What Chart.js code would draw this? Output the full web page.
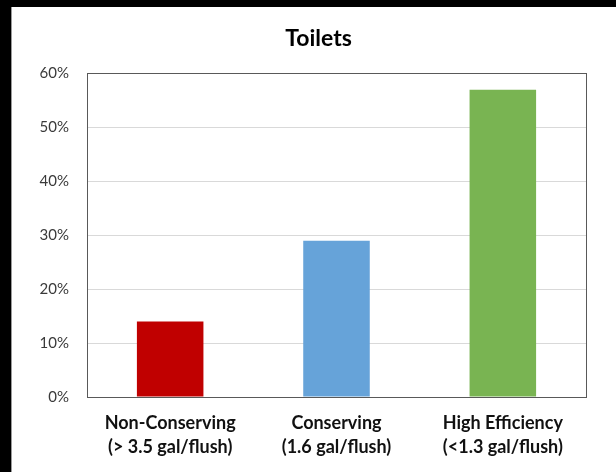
<!DOCTYPE html>
<html>
<head>
<meta charset="utf-8">
<script src="https://cdn.jsdelivr.net/npm/chart.js@4"></script>
<style>
  html, body { margin: 0; padding: 0; background: #000; }
  #wrap { position: absolute; left: 11px; top: 7px; width: 605px; height: 465px; background: #fff; border-left: 1px solid #9a9a9a; box-sizing: border-box; }
  canvas { display: block; }
</style>
</head>
<body>
<div id="wrap"><canvas id="myChart" width="604" height="465"></canvas></div>
<script>
// toilet types and share of each (percent)
var categories = [
  ['Non-Conserving', '(> 3.5 gal/flush)'],
  ['Conserving', '(1.6 gal/flush)'],
  ['High Efficiency', '(<1.3 gal/flush)']
];
var shares = [14, 29, 57];
var barColors = ['#C00000', '#66A3D9', '#79B452'];
var yMax = 60;
var yStep = 10;

var frameColor = '#595959';

var ctx = document.getElementById('myChart');

var chart = new Chart(ctx, {
  type: 'bar',
  data: {
    labels: categories,
    datasets: [{
      data: shares,
      backgroundColor: barColors,
      borderWidth: 0,
      barPercentage: 0.4,
      categoryPercentage: 1
    }]
  },
  options: {
    responsive: false,
    animation: false,
    layout: { padding: { left: 19, right: 10, top: 0, bottom: 0 } },
    plugins: {
      legend: { display: false },
      tooltip: { enabled: false },
      title: {
        display: true,
        text: 'Toilets',
        color: '#000',
        font: { family: 'Lato', size: 23, weight: 'bold', lineHeight: 1.2 },
        padding: { top: 18, bottom: 21 }
      }
    },
    scales: {
      x: {
        grid: { display: false },
        border: { display: true, color: frameColor, width: 1 },
        ticks: {
          color: '#111',
          padding: 6,
          maxRotation: 0,
          font: { family: 'Lato', size: 18, weight: 'bold', lineHeight: 1.35 }
        },
        afterFit: function(scale) { scale.height = 75; }
      },
      y: {
        min: 0,
        max: yMax,
        border: { display: true, color: frameColor, width: 1 },
        grid: {
          drawTicks: false,
          // top gridline doubles as the frame's upper edge
          color: function(c) { return c.tick && c.tick.value === yMax ? frameColor : '#d9d9d9'; }
        },
        ticks: {
          stepSize: yStep,
          padding: 18,
          color: '#3a3a3a',
          font: { family: 'Lato', size: 15 },
          callback: function(v) { return v + '%'; }
        },
        afterFit: function(scale) { scale.width = 56; }
      },
      // right edge of the frame
      y2: {
        position: 'right',
        min: 0,
        max: yMax,
        grid: { display: false, drawTicks: false },
        border: { display: true, color: frameColor, width: 1 },
        ticks: { display: false },
        afterFit: function(scale) { scale.width = 20; }
      }
    }
  }
});
</script>
</body>
</html>
